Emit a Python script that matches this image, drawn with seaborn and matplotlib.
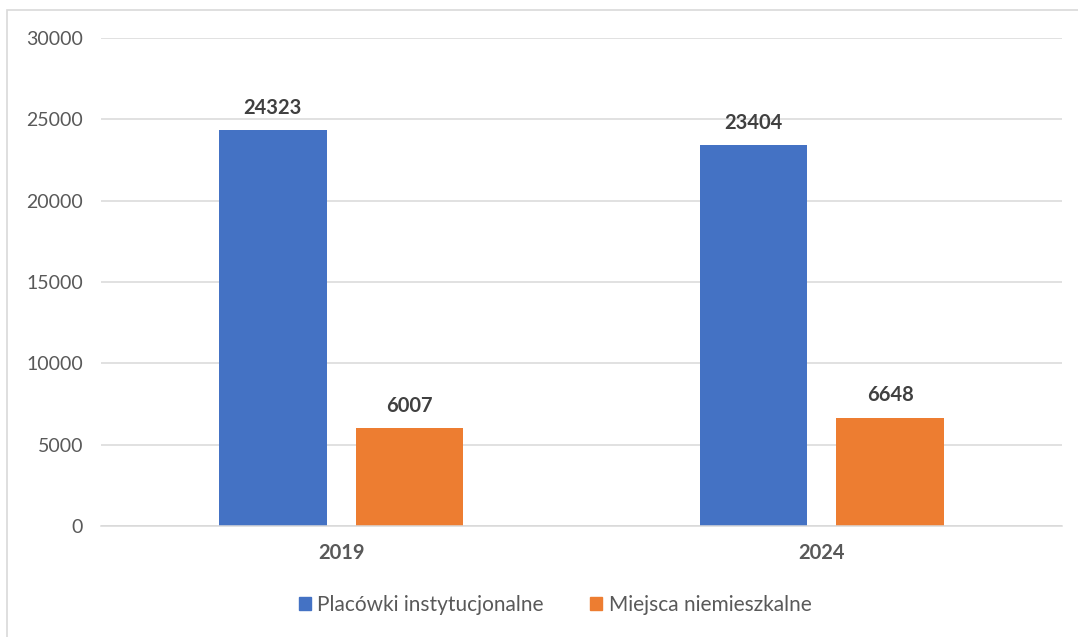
import matplotlib
matplotlib.use("Agg")
import matplotlib.pyplot as plt
import matplotlib.transforms as mtrans
import seaborn as sns
import pandas as pd
from matplotlib.patches import Rectangle

years = ["2019", "2024"]
series = ["Placówki instytucjonalne", "Miejsca niemieszkalne"]
placowki = [24323, 23404]
miejsca = [6007, 6648]
yticks = [0, 5000, 10000, 15000, 20000, 25000, 30000]

df = pd.DataFrame({
    "year": years * 2,
    "series": [series[0]] * 2 + [series[1]] * 2,
    "value": placowki + miejsca,
})

sns.set_theme(style="white")
plt.rcParams["font.family"] = ["Lato", "DejaVu Sans"]
txt = "#595959"

fig = plt.figure(figsize=(10.78, 6.37), dpi=100)
ax = fig.add_axes([101/1078, 1-526/637, 961/1078, (526-38)/637])

sns.barplot(data=df, x="year", y="value", hue="series", order=years, hue_order=series,
            palette=["#4472C4", "#ED7D31"], width=0.57, gap=0.215, ax=ax,
            legend=False, saturation=1, linewidth=0)

ax.set_ylim(0, 30000)
ax.set_xlim(-0.5, 1.5)
ax.set_yticks(yticks)
ax.set_yticklabels([str(v) for v in yticks], color=txt, fontsize=14)
ax.tick_params(axis="y", length=0, pad=13)
ax.tick_params(axis="x", length=0, labelbottom=False)
ax.set_xlabel("")
ax.set_ylabel("")
ax.yaxis.grid(True, color="#D9D9D9", linewidth=1.1)
ax.set_axisbelow(True)
for s in ["top", "right", "left"]:
    ax.spines[s].set_visible(False)
ax.spines["bottom"].set_color("#D9D9D9")
ax.spines["bottom"].set_linewidth(1.1)

trans = mtrans.blended_transform_factory(ax.transData, ax.transAxes)
for i, yr in enumerate(years):
    ax.text(i, -0.055, yr, transform=trans, ha="center", va="center",
            fontsize=14.5, fontweight="bold", color=txt)

for cont in ax.containers:
    ax.bar_label(cont, fmt="%d", padding=9, fontsize=14.5, fontweight="bold", color="#404040")

handles = [Rectangle((0, 0), 1, 1, color=c) for c in ["#4472C4", "#ED7D31"]]
fig.legend(handles, series, loc="center", bbox_to_anchor=(555/1078, 1-605/637), ncol=2,
           frameon=False, fontsize=15, handlelength=0.6, handleheight=0.6,
           handletextpad=0.3, columnspacing=2.2, labelcolor=txt)

fig.patches.append(Rectangle((7/1078, -0.05), 1.1, 1-10/637+0.05, transform=fig.transFigure,
                             fill=False, edgecolor="#D9D9D9", linewidth=1.2))

fig.savefig("out.png", dpi=100)
